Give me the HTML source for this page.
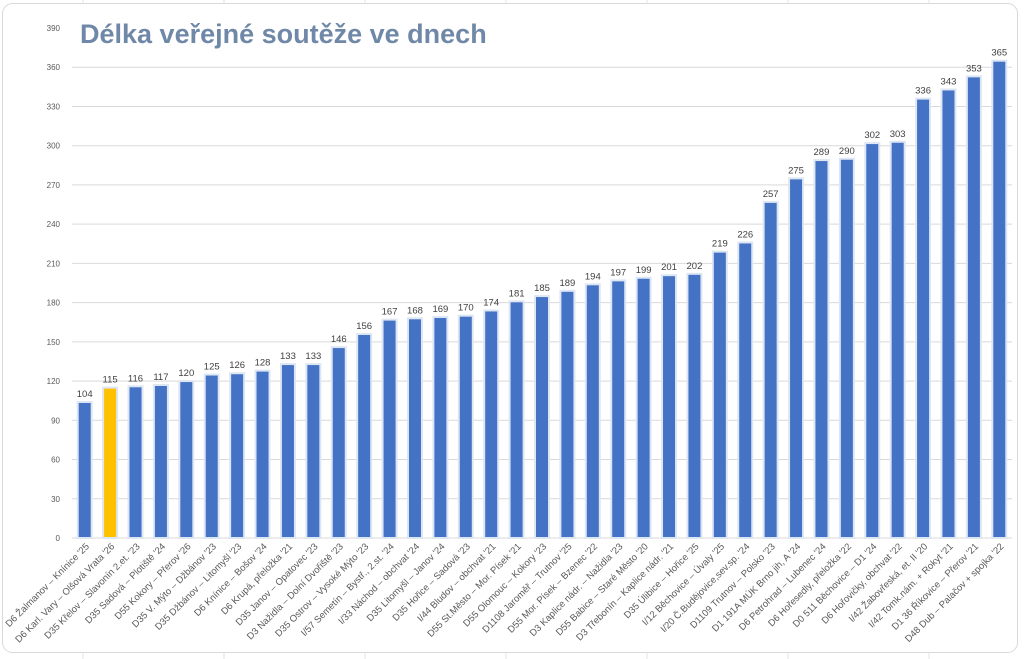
<!DOCTYPE html>
<html><head><meta charset="utf-8"><style>
body{margin:0;background:#fff;width:1024px;height:659px;overflow:hidden;font-family:"Liberation Sans",sans-serif}
svg{position:absolute;left:0;top:0}
</style></head><body>
<svg id="c" width="1024" height="659">
<g id="bg"></g>
<rect x="2.5" y="3.5" width="1015" height="649" rx="10" fill="#fff" stroke="#d9d9d9"/>
<g id="grid"></g>
<g id="yax"></g>
<g id="bars"></g>
<g id="xl"></g>
<text x="80" y="43" font-size="27" font-weight="bold" fill="#7088a8">Délka veřejné soutěže ve dnech</text>
</svg>
<script>
const categories=["D6 Žalmanov – Knínice '25","D6 Karl. Vary – Olšová Vrata '26","D35 Křelov – Slavonín 2.et. '23","D35 Sadová – Plotiště '24","D55 Kokory – Přerov '26","D35 V. Mýto – Džbánov '23","D35 Džbánov – Litomyšl '23","D6 Knínice – Bošov '24","D6 Krupá, přeložka '21","D35 Janov – Opatovec '23","D3 Nažidla – Dolní Dvořiště '23","D35 Ostrov – Vysoké Mýto '23","I/57 Semetín – Bystř., 2.st. '24","I/33 Náchod – obchvat '24","D35 Litomyšl – Janov '24","D35 Hořice – Sadová '23","I/44 Bludov – obchvat '21","D55 St.Město – Mor. Písek '21","D55 Olomouc – Kokory '23","D1108 Jaroměř – Trutnov '25","D55 Mor. Písek – Bzenec '22","D3 Kaplice nádr. – Nažidla '23","D55 Babice – Staré Město '20","D3 Třebonín – Kaplice nádr. '21","D35 Úlibice – Hořice '25","I/12 Běchovice – Úvaly '25","I/20 Č.Budějovice,sev.sp. '24","D1109 Trutnov – Polsko '23","D1 191A MÚK Brno jih, A '24","D6 Petrohrad – Lubenec '24","D6 Hořesedly, přeložka '22","D0 511 Běchovice – D1 '24","D6 Hořovičky, obchvat '22","I/42 Žabovřeská, et. II '20","I/42 Tomk.nám. + Rokyt '21","D1 36 Říkovice – Přerov '21","D48 Dub – Palačov + spojka '22"];
const values=[104,115,116,117,120,125,126,128,133,133,146,156,167,168,169,170,174,181,185,189,194,197,199,201,202,219,226,257,275,289,290,302,303,336,343,353,365];
const highlight=[1];
const yTicks=[0,30,60,90,120,150,180,210,240,270,300,330,360,390];
const NS="http://www.w3.org/2000/svg";
const y0=538,yTop=28,yMax=390,xL=72,xR=1012;
const y=v=>y0-(v/yMax)*(y0-yTop);
const step=(xR-xL)/categories.length;
const xc=i=>xL+step*(i+0.5);
function mk(t,a,p){const e=document.createElementNS(NS,t);for(const k in a)e.setAttribute(k,a[k]);p.appendChild(e);return e;}
const bg=document.getElementById('bg');
for(let x=83;x<1024;x+=141){const l=mk('line',{x1:x,y1:0,x2:x,y2:659,stroke:'#e3e3e3'},bg);}
const grid=document.getElementById('grid'),yax=document.getElementById('yax');
yTicks.forEach(t=>{
 if(t>0&&t<yMax){const g=mk('line',{x1:xL,x2:xR,y1:y(t),y2:y(t),stroke:'#d9d9d9'},grid);}
 const tx=mk('text',{x:60,y:y(t)+3,'font-size':8,'text-anchor':'end',fill:'#595959'},yax);tx.textContent=t;
 
});
const ax=mk('line',{x1:xL,x2:xR,y1:y0,y2:y0,stroke:'#d9d9d9'},grid);
const bars=document.getElementById('bars'),xl=document.getElementById('xl');
const bw=14;
values.forEach((v,i)=>{
 const r=mk('rect',{x:xc(i)-bw/2,y:y(v),width:bw,height:y0-y(v),fill:highlight.includes(i)?'#FFC000':'#4472C4',stroke:'#dde6f4','stroke-width':2},bars);
 
 
 const t=mk('text',{x:xc(i),y:y(v)-5,'font-size':9.5,'text-anchor':'middle',fill:'#404040'},bars);t.textContent=v;
 
 
 const lb=mk('text',{x:0,y:0,'font-size':9.5,'text-anchor':'end',fill:'#595959',transform:`translate(${xc(i)+5},${y0+9}) rotate(-45)`},xl);lb.textContent=categories[i];
 
 
});
</script>
</body></html>
